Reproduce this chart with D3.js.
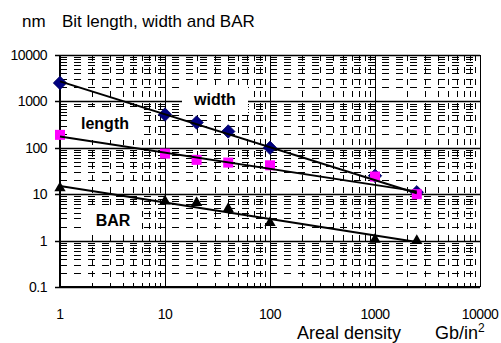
<!DOCTYPE html>
<html>
<head>
<meta charset="utf-8">
<script src="https://cdn.jsdelivr.net/npm/d3@7"></script>
<style>
  body { margin: 0; background: #fff; }
  text { font-family: "Liberation Sans", Arial, sans-serif; fill: #000; }
</style>
</head>
<body>
<script>
// areal density (Gb/in2) where the points sit
var density = [1, 10, 20, 40, 100, 1000, 2500];
// bit width, bit length and bit aspect ratio
var widthNm = [2500, 520, 350, 225, 100, 25, 11];
var lengthNm = [190, 75, 55, 48, 42, 24, 10];
var barVals = [13, 6.7, 6.2, 4.6, 2.3, 1.0, 0.95];
// trendline end points (power fits, straight on log-log)
var widthTrend = [[1, 2700], [2500, 10.5]];
var lengthTrend = [[1, 175], [2500, 11.5]];
var barTrend = [[1, 15], [2500, 0.93]];
var xTicks = [1, 10, 100, 1000, 10000];
var yTicks = [0.1, 1, 10, 100, 1000, 10000];

var W = 501, H = 343;
var svg = d3.select("body").append("svg")
  .attr("width", W).attr("height", H);

var x = d3.scaleLog().domain([1, 10000]).range([60, 480]);
var y = d3.scaleLog().domain([0.1, 10000]).range([287, 55]);

// minor grid (dashed)
var g = svg.append("g");
x.ticks().filter(function(d) { return xTicks.indexOf(d) < 0; }).forEach(function(d) {
  g.append("line")
    .attr("x1", Math.round(x(d)) + 0.5).attr("x2", Math.round(x(d)) + 0.5)
    .attr("y1", y(10000)).attr("y2", y(0.1))
    .attr("stroke", "#000").attr("stroke-width", 1)
    .attr("stroke-dasharray", "6,6");
});
y.ticks().filter(function(d) { return yTicks.indexOf(d) < 0; }).forEach(function(d) {
  g.append("line")
    .attr("y1", Math.round(y(d)) + 0.5).attr("y2", Math.round(y(d)) + 0.5)
    .attr("x1", x(1)).attr("x2", x(10000))
    .attr("stroke", "#000").attr("stroke-width", 1)
    .attr("stroke-dasharray", "7,7");
});
// major grid (solid)
xTicks.forEach(function(d) {
  g.append("line")
    .attr("x1", Math.round(x(d)) + 0.5).attr("x2", Math.round(x(d)) + 0.5)
    .attr("y1", y(10000)).attr("y2", y(0.1))
    .attr("stroke", "#000").attr("stroke-width", 1);
});
yTicks.forEach(function(d) {
  g.append("line")
    .attr("y1", Math.round(y(d)) + 0.5).attr("y2", Math.round(y(d)) + 0.5)
    .attr("x1", x(1) - 5).attr("x2", x(10000))
    .attr("stroke", "#000").attr("stroke-width", 1.3);
});
// axis lines
svg.append("line").attr("x1", x(1)).attr("x2", x(1))
  .attr("y1", y(10000)).attr("y2", y(0.1))
  .attr("stroke", "#000").attr("stroke-width", 2);
svg.append("line").attr("x1", x(1)).attr("x2", x(10000))
  .attr("y1", y(0.1)).attr("y2", y(0.1))
  .attr("stroke", "#000").attr("stroke-width", 2);

// white boxes behind the series labels
var boxes = [
  { t: "width", x0: 182, x1: 248, y0: 86, y1: 113 },
  { t: "length", x0: 67, x1: 143, y0: 107, y1: 140 },
  { t: "BAR", x0: 88, x1: 138, y0: 206, y1: 235 }
];
boxes.forEach(function(b) {
  svg.append("rect")
    .attr("x", b.x0).attr("y", b.y0)
    .attr("width", b.x1 - b.x0).attr("height", b.y1 - b.y0)
    .attr("fill", "#fff");
  svg.append("text")
    .attr("x", (b.x0 + b.x1) / 2).attr("y", (b.y0 + b.y1) / 2 + 5.5)
    .attr("text-anchor", "middle")
    .style("font-size", "16px").style("font-weight", "bold")
    .text(b.t);
});

// markers
function pts(vals) {
  return vals.map(function(v, i) { return { x: density[i], y: v }; });
}
svg.selectAll(".dia").data(pts(widthNm)).enter().append("path")
  .attr("d", d3.symbol().type(d3.symbolDiamond2).size(115))
  .attr("transform", function(d) { return "translate(" + x(d.x) + "," + y(d.y) + ")"; })
  .attr("fill", "#000080").attr("stroke", "#000060").attr("stroke-width", 0.8);
svg.selectAll(".sq").data(pts(lengthNm)).enter().append("rect")
  .attr("x", function(d) { return x(d.x) - 5; })
  .attr("y", function(d) { return y(d.y) - 5; })
  .attr("width", 10).attr("height", 10)
  .attr("fill", "#ff00ff");
svg.selectAll(".tri").data(pts(barVals)).enter().append("path")
  .attr("d", d3.symbol().type(d3.symbolTriangle).size(55))
  .attr("transform", function(d) { return "translate(" + x(d.x) + "," + (y(d.y) - 1) + ")"; })
  .attr("fill", "#000");

// trendlines
var line = d3.line()
  .x(function(d) { return x(d[0]); })
  .y(function(d) { return y(d[1]); });
[widthTrend, lengthTrend, barTrend].forEach(function(t) {
  svg.append("path").datum(t)
    .attr("d", line)
    .attr("fill", "none").attr("stroke", "#000").attr("stroke-width", 2);
});

// tick labels
yTicks.forEach(function(d) {
  svg.append("text")
    .attr("x", 47).attr("y", y(d) + 5)
    .attr("text-anchor", "end")
    .style("font-size", "14px").style("letter-spacing", "-0.5px")
    .text(d === 0.1 ? "0.1" : String(d));
});
xTicks.forEach(function(d) {
  svg.append("text")
    .attr("x", x(d)).attr("y", 319)
    .attr("text-anchor", "middle")
    .style("font-size", "14px").style("letter-spacing", "-0.5px")
    .text(String(d));
});

// titles
svg.append("text").attr("x", 22).attr("y", 27)
  .style("font-size", "17px").text("nm");
svg.append("text").attr("x", 62).attr("y", 27)
  .style("font-size", "17px").text("Bit length, width and BAR");
svg.append("text").attr("x", 297).attr("y", 339)
  .style("font-size", "18px").text("Areal density");
var gb = svg.append("text").attr("x", 435).attr("y", 339)
  .style("font-size", "18px");
gb.append("tspan").text("Gb/in");
gb.append("tspan").attr("dy", -7).style("font-size", "12px").text("2");
</script>
</body>
</html>
